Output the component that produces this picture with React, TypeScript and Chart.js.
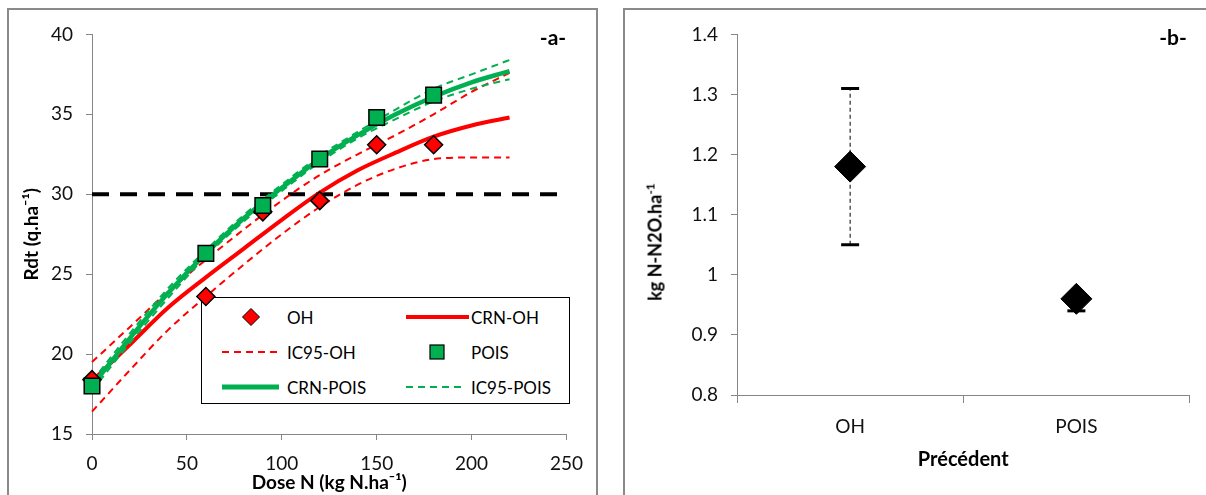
import React, { useEffect, useRef } from "react";
import { Chart, registerables } from "chart.js";

Chart.register(...registerables);

// ---------- Panel a: yield response to N ----------
const DOSE_OBS = [0, 60, 90, 120, 150, 180];
const OH_OBS = [18.4, 23.6, 28.9, 29.6, 33.1, 33.1];
const POIS_OBS = [18.0, 26.3, 29.3, 32.2, 34.8, 36.2];

const DOSE_CURVE = [0, 20, 40, 60, 80, 100, 120, 140, 160, 180, 200, 220];
const CRN_OH = [18.3, 20.6, 22.9, 24.8, 26.6, 28.4, 30.1, 31.5, 32.6, 33.6, 34.3, 34.8];
const IC95_OH_UP = [19.5, 21.7, 23.9, 25.9, 27.8, 29.6, 31.2, 32.5, 33.7, 35.0, 36.4, 37.6];
const IC95_OH_LOW = [16.4, 19.0, 21.5, 23.6, 25.6, 27.5, 29.2, 30.6, 31.6, 32.2, 32.3, 32.3];
const CRN_POIS = [18.0, 21.0, 23.8, 26.3, 28.5, 30.4, 32.2, 33.7, 35.0, 36.1, 37.0, 37.7];
const IC95_POIS_UP = [18.3, 21.3, 24.1, 26.5, 28.7, 30.6, 32.4, 33.9, 35.3, 36.6, 37.5, 38.4];
const IC95_POIS_LOW = [17.7, 20.7, 23.5, 26.1, 28.3, 30.2, 32.0, 33.5, 34.7, 35.8, 36.6, 37.2];

const THRESHOLD_X = [0, 250];
const THRESHOLD_Y = 30;

const SERIES_NAMES = ["OH", "CRN-OH", "IC95-OH", "POIS", "CRN-POIS", "IC95-POIS"];

// ---------- Panel b: N2O emissions ----------
const PRECEDENTS = ["OH", "POIS"];
const N2O_MEAN = [1.18, 0.96];
const N2O_LOW = [1.05, 0.94];
const N2O_HIGH = [1.31, 0.965];

const RED = "#ff0000";
const GREEN = "#00b050";
const AXIS_GRAY = "#868686";
const FONT = "Lato, 'Open Sans', sans-serif";

const pts = (xs: number[], ys: number[]) => xs.map((x, i) => ({ x, y: ys[i] }));

function ChartA() {
  const ref = useRef<HTMLCanvasElement | null>(null);
  useEffect(() => {
    if (!ref.current) return;
    const curve = (label: string, ys: number[], color: string, width: number, dash: number[], order: number) => ({
      label,
      data: pts(DOSE_CURVE, ys),
      showLine: true,
      borderColor: color,
      backgroundColor: color,
      borderWidth: width,
      borderDash: dash,
      pointRadius: 0,
      cubicInterpolationMode: "monotone" as const,
      clip: false as any,
      order,
    });
    const chart = new Chart(ref.current, {
      type: "scatter",
      data: {
        datasets: [
          {
            label: SERIES_NAMES[3],
            data: pts(DOSE_OBS, POIS_OBS),
            pointStyle: "rect",
            pointRadius: 11,
            backgroundColor: GREEN,
            borderColor: "#000",
            borderWidth: 1.5,
            clip: false as any,
            order: 0,
          },
          {
            label: SERIES_NAMES[0],
            data: pts(DOSE_OBS, OH_OBS),
            pointStyle: "rectRot",
            pointRadius: 9,
            backgroundColor: RED,
            borderColor: "#000",
            borderWidth: 1.5,
            clip: false as any,
            order: 1,
          },
          curve(SERIES_NAMES[4], CRN_POIS, GREEN, 4.5, [], 2),
          curve(SERIES_NAMES[5], IC95_POIS_UP, GREEN, 2, [7, 5], 3),
          curve(SERIES_NAMES[5], IC95_POIS_LOW, GREEN, 2, [7, 5], 3),
          curve(SERIES_NAMES[1], CRN_OH, RED, 4, [], 4),
          curve(SERIES_NAMES[2], IC95_OH_UP, RED, 2, [7, 5], 5),
          curve(SERIES_NAMES[2], IC95_OH_LOW, RED, 2, [7, 5], 5),
          {
            label: "Seuil",
            data: THRESHOLD_X.map((x) => ({ x, y: THRESHOLD_Y })),
            showLine: true,
            borderColor: "#000",
            borderWidth: 4,
            borderDash: [17, 11],
            pointRadius: 0,
            order: 10,
          },
        ],
      },
      options: {
        animation: false,
        responsive: false,
        layout: { padding: { top: 24, right: 28, left: 0, bottom: 0 } },
        plugins: { legend: { display: false }, tooltip: { enabled: false } },
        scales: {
          x: {
            type: "linear",
            min: 0,
            max: 250,
            afterFit: (s: any) => {
              s.height = 61;
            },
            ticks: { stepSize: 50, padding: 12, color: "#111", font: { family: FONT, size: 19 } },
            grid: { drawOnChartArea: false, drawTicks: true, tickLength: 6, color: AXIS_GRAY },
            border: { display: true, color: AXIS_GRAY, width: 1 },
            title: {
              display: true,
              text: "Dose N (kg N.ha⁻¹)",
              color: "#000",
              font: { family: FONT, size: 19, weight: "bold" },
              padding: { top: 0, bottom: 1 },
            },
          },
          y: {
            type: "linear",
            min: 15,
            max: 40,
            afterFit: (s: any) => {
              s.width = 83;
            },
            ticks: { stepSize: 5, padding: 13, color: "#111", font: { family: FONT, size: 19 } },
            grid: { drawOnChartArea: false, drawTicks: true, tickLength: 6, color: AXIS_GRAY },
            border: { display: true, color: AXIS_GRAY, width: 1 },
            title: {
              display: true,
              text: "Rdt (q.ha⁻¹)",
              color: "#000",
              font: { family: FONT, size: 19, weight: "bold" },
              padding: { top: 11, bottom: 0 },
            },
          },
        },
      },
    });
    return () => chart.destroy();
  }, []);
  return (
    <canvas
      ref={ref}
      width={586}
      height={485}
      style={{ position: "absolute", left: 9, top: 10, zIndex: 2 }}
    />
  );
}

function ChartB() {
  const ref = useRef<HTMLCanvasElement | null>(null);
  useEffect(() => {
    if (!ref.current) return;
    const errorSets = PRECEDENTS.map((p, i) => ({
      label: "IC " + p,
      data: [
        { x: p, y: N2O_LOW[i] },
        { x: p, y: N2O_HIGH[i] },
      ],
      showLine: true,
      borderColor: "#000",
      borderWidth: 1,
      borderDash: [4, 3],
      pointStyle: "line",
      pointRadius: 9,
      pointBorderWidth: 3,
      pointBorderColor: "#000",
      clip: false as any,
      order: 2,
    }));
    const chart = new Chart(ref.current, {
      type: "line",
      data: {
        labels: PRECEDENTS,
        datasets: [
          {
            label: "N2O",
            data: N2O_MEAN,
            showLine: false,
            pointStyle: "rectRot",
            pointRadius: 15.5,
            backgroundColor: "#000",
            borderColor: "#000",
            borderWidth: 1,
            clip: false as any,
            order: 0,
          },
          ...errorSets,
        ],
      },
      options: {
        animation: false,
        responsive: false,
        layout: { padding: { top: 24, right: 16.5, left: 0, bottom: 0 } },
        plugins: { legend: { display: false }, tooltip: { enabled: false } },
        scales: {
          x: {
            type: "category",
            offset: true,
            afterFit: (s: any) => {
              s.height = 100;
            },
            ticks: { padding: 12, color: "#111", font: { family: FONT, size: 19 } },
            grid: { offset: true, drawOnChartArea: false, drawTicks: true, tickLength: 8, color: AXIS_GRAY },
            border: { display: true, color: AXIS_GRAY, width: 1 },
            title: {
              display: true,
              text: "Précédent",
              color: "#000",
              font: { family: FONT, size: 20, weight: "bold" },
              padding: { top: 0, bottom: 23 },
            },
          },
          y: {
            type: "linear",
            min: 0.8,
            max: 1.4,
            afterFit: (s: any) => {
              s.width = 112;
            },
            ticks: {
              stepSize: 0.1,
              padding: 13,
              color: "#111",
              font: { family: FONT, size: 19 },
              callback: (v: any) => String(Number(Number(v).toFixed(1))),
            },
            grid: { drawOnChartArea: false, drawTicks: true, tickLength: 6, color: AXIS_GRAY },
            border: { display: true, color: AXIS_GRAY, width: 1 },
          },
        },
      },
    });
    return () => chart.destroy();
  }, []);
  return (
    <canvas
      ref={ref}
      width={581}
      height={485}
      style={{ position: "absolute", left: 625, top: 10, zIndex: 2 }}
    />
  );
}

function LegendA() {
  const rows = [20, 55, 90];
  const textStyle = { fontFamily: FONT, fontSize: 17, fill: "#000" } as any;
  return (
    <svg
      width={370}
      height={108}
      style={{ position: "absolute", left: 201, top: 297, zIndex: 1 }}
    >
      <rect x={0.5} y={0.5} width={368} height={106} fill="#fff" stroke="#000" strokeWidth={1} />
      {/* OH */}
      <polygon
        points={`50,${rows[0] - 8.5} 58.5,${rows[0]} 50,${rows[0] + 8.5} 41.5,${rows[0]}`}
        fill={RED}
        stroke="#000"
        strokeWidth={1}
      />
      <text x={86} y={rows[0]} dominantBaseline="central" style={textStyle}>{SERIES_NAMES[0]}</text>
      {/* CRN-OH */}
      <line x1={205} y1={rows[0]} x2={268} y2={rows[0]} stroke={RED} strokeWidth={4} />
      <text x={270} y={rows[0]} dominantBaseline="central" style={textStyle}>{SERIES_NAMES[1]}</text>
      {/* IC95-OH */}
      <line x1={21} y1={rows[1]} x2={76} y2={rows[1]} stroke={RED} strokeWidth={2} strokeDasharray="7 5" />
      <text x={86} y={rows[1]} dominantBaseline="central" style={textStyle}>{SERIES_NAMES[2]}</text>
      {/* POIS */}
      <rect x={229} y={rows[1] - 7} width={14} height={14} fill={GREEN} stroke="#000" strokeWidth={1.2} />
      <text x={270} y={rows[1]} dominantBaseline="central" style={textStyle}>{SERIES_NAMES[3]}</text>
      {/* CRN-POIS */}
      <line x1={21} y1={rows[2]} x2={78} y2={rows[2]} stroke={GREEN} strokeWidth={5} />
      <text x={86} y={rows[2]} dominantBaseline="central" style={textStyle}>{SERIES_NAMES[4]}</text>
      {/* IC95-POIS */}
      <line x1={205} y1={rows[2]} x2={262} y2={rows[2]} stroke={GREEN} strokeWidth={2} strokeDasharray="7 5" />
      <text x={270} y={rows[2]} dominantBaseline="central" style={textStyle}>{SERIES_NAMES[5]}</text>
    </svg>
  );
}

export default function App() {
  const panelLabel = {
    position: "absolute" as const,
    fontFamily: FONT,
    fontWeight: 700,
    fontSize: 21,
    color: "#000",
    transform: "translate(-50%, -50%)",
    zIndex: 3,
    lineHeight: 1,
  };
  return (
    <div
      style={{
        position: "absolute",
        left: 0,
        top: 0,
        width: 1206,
        height: 495,
        overflow: "hidden",
        background: "#fff",
        fontFamily: FONT,
      }}
    >
      <div
        style={{
          position: "absolute",
          left: 7,
          top: 8,
          width: 591,
          height: 560,
          boxSizing: "border-box",
          border: "2.5px solid #8a8a8a",
          zIndex: 0,
        }}
      />
      <div
        style={{
          position: "absolute",
          left: 623,
          top: 8,
          width: 640,
          height: 560,
          boxSizing: "border-box",
          border: "2.5px solid #8a8a8a",
          zIndex: 0,
        }}
      />
      <LegendA />
      <ChartA />
      <ChartB />
      <div style={{ ...panelLabel, left: 553, top: 36 }}>-a-</div>
      <div style={{ ...panelLabel, left: 1173, top: 36 }}>-b-</div>
      <div
        style={{
          position: "absolute",
          left: 654,
          top: 242,
          transform: "translate(-50%, -50%) rotate(-90deg)",
          whiteSpace: "nowrap",
          fontFamily: FONT,
          fontWeight: 700,
          fontSize: 18,
          color: "#000",
          zIndex: 3,
          lineHeight: 1,
        }}
      >
        kg N-N2O.ha<sup style={{ fontSize: 12 }}>-1</sup>
      </div>
    </div>
  );
}
